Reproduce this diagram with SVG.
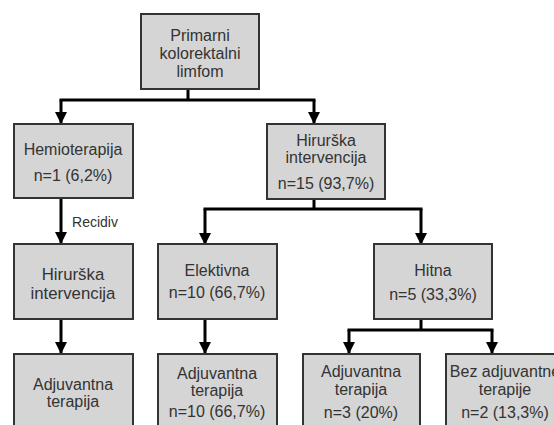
<svg xmlns="http://www.w3.org/2000/svg" width="554" height="425" viewBox="0 0 554 425">
<defs>
<marker id="ah" markerUnits="userSpaceOnUse" markerWidth="12" markerHeight="12" viewBox="0 0 12 12" refX="11" refY="6" orient="auto">
<path d="M0,0 L12,6 L0,12 Z" fill="#000"/>
</marker>
<style>
.box{fill:#d5d5d5;stroke:#333;stroke-width:2}
.t{font-family:"Liberation Sans",Arial,sans-serif;font-size:16px;fill:#333;text-anchor:middle}
.big{font-size:16.8px}
.sm{font-size:14px}
.c{fill:none;stroke:#000;stroke-width:3}
</style>
</defs>
<rect width="554" height="425" fill="#fff"/>
<g id="connectors">
<path class="c" d="M188,89 V100 M59.5,100 H315.5"/>
<path class="c" d="M61,100 V123" marker-end="url(#ah)"/>
<path class="c" d="M314,100 V123" marker-end="url(#ah)"/>
<path class="c" d="M61,198 V243" marker-end="url(#ah)"/>
<path class="c" d="M314,199 V209 M203.5,209 H422.5"/>
<path class="c" d="M205,209 V244" marker-end="url(#ah)"/>
<path class="c" d="M421,209 V244" marker-end="url(#ah)"/>
<path class="c" d="M61,319 V353" marker-end="url(#ah)"/>
<path class="c" d="M205,319 V353" marker-end="url(#ah)"/>
<path class="c" d="M421,319 V330 M347.5,330 H493.5"/>
<path class="c" d="M349,330 V353" marker-end="url(#ah)"/>
<path class="c" d="M492,330 V353" marker-end="url(#ah)"/>
<text class="t sm" x="95" y="227">Recidiv</text>
</g>
<g id="n-primarni">
<rect class="box" x="141" y="14" width="118" height="75"/>
<text class="t" x="200" y="41">Primarni</text>
<text class="t" x="200" y="59">kolorektalni</text>
<text class="t" x="200" y="77">limfom</text>
</g>
<g id="n-hemio">
<rect class="box" x="14" y="124" width="119" height="74"/>
<text class="t" x="73" y="155">Hemioterapija</text>
<text class="t" x="73" y="181">n=1 (6,2%)</text>
</g>
<g id="n-hir1">
<rect class="box" x="267" y="124" width="118" height="75"/>
<text class="t" x="326" y="146">Hirurška</text>
<text class="t" x="326" y="163">intervencija</text>
<text class="t" x="326" y="189">n=15 (93,7%)</text>
</g>
<g id="n-hir2">
<rect class="box" x="14" y="244" width="119" height="75"/>
<text class="t big" x="73" y="280">Hirurška</text>
<text class="t big" x="73" y="299">intervencija</text>
</g>
<g id="n-elektivna">
<rect class="box" x="158" y="244" width="119" height="75"/>
<text class="t" x="217" y="276">Elektivna</text>
<text class="t" x="217" y="298">n=10 (66,7%)</text>
</g>
<g id="n-hitna">
<rect class="box" x="374" y="244" width="118" height="75"/>
<text class="t" x="433" y="276">Hitna</text>
<text class="t" x="433" y="300">n=5 (33,3%)</text>
</g>
<g id="n-adj1">
<rect class="box" x="14" y="354" width="119" height="80"/>
<text class="t" x="73" y="390">Adjuvantna</text>
<text class="t" x="73" y="407">terapija</text>
</g>
<g id="n-adj2">
<rect class="box" x="158" y="354" width="119" height="80"/>
<text class="t" x="217" y="379">Adjuvantna</text>
<text class="t" x="217" y="396">terapija</text>
<text class="t" x="217" y="417">n=10 (66,7%)</text>
</g>
<g id="n-adj3">
<rect class="box" x="303" y="354" width="117" height="80"/>
<text class="t" x="361" y="377">Adjuvantna</text>
<text class="t" x="361" y="395">terapija</text>
<text class="t" x="361" y="418">n=3 (20%)</text>
</g>
<g id="n-bez">
<rect class="box" x="446" y="354" width="119" height="80"/>
<text class="t" x="505" y="377">Bez adjuvantne</text>
<text class="t" x="505" y="395">terapije</text>
<text class="t" x="505" y="418">n=2 (13,3%)</text>
</g>
</svg>
